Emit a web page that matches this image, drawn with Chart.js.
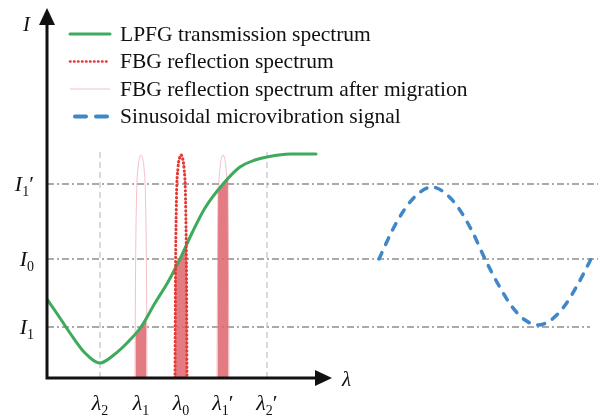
<!DOCTYPE html>
<html>
<head>
<meta charset="utf-8">
<script src="https://cdn.jsdelivr.net/npm/chart.js"></script>
<style>
    html, body { margin: 0; padding: 0; background: #fff; }
</style>
</head>
<body>
<canvas id="spectrum-chart" width="602" height="415"></canvas>
<script>
/*
    data (arbitrary units)
*/
// intensity levels
const levelLabels = ["I1′", "I0", "I1"];
const levelValues = [194, 119, 51];
const levelEnds = [551, 551, 543];

// wavelength marks
const waveLabels = ["λ2", "λ1", "λ0", "λ1′", "λ2′"];
const waveValues = [53, 94, 134, 176, 220];

// LPFG transmission spectrum
const lpfgX = [0, 13, 23, 38, 53, 68, 81, 94, 108, 121, 133, 145, 158, 176, 193, 208, 220, 243, 269];
const lpfgY = [79, 60, 45, 25, 15, 24, 36, 51, 75, 96, 119, 145, 170, 194, 211, 218, 221, 224, 224];

// FBG reflection peak profile (offset from centre wavelength)
const peakOffsets = [-6, -5.5, -4.5, -3, -1.5, 0, 1.5, 3, 4.5, 5.5, 6];
const peakHeights = [0, 100, 180, 210, 220, 223, 220, 210, 180, 100, 0];
const peakCenter = 134;
const shiftedCenters = [94, 176];

// transmitted part of each peak (under the LPFG curve)
const overlapX = [
    [88.5, 88.5, 94, 99.5, 99.5],
    [128, 128, 134, 140, 140],
    [170.5, 170.5, 176, 181.5, 181.5]
];
const overlapY = [
    [0, 45, 51, 58, 0],
    [0, 110, 122, 135, 0],
    [0, 188, 194, 200, 0]
];

// sinusoidal microvibration signal
const sineX = [332, 345, 358.5, 372, 385, 398, 411.5, 425, 438, 451, 464.5, 478, 491, 504, 517.5, 531, 544];
const sineY = [119, 147, 170, 185, 191, 185, 170, 147, 119, 94, 72, 58, 53, 58, 72, 94, 119];

const guideTop = 228;
const axisEndX = 285;
const axisEndY = 370;

const legendLabels = [
    "LPFG transmission spectrum",
    "FBG reflection spectrum",
    "FBG reflection spectrum after migration",
    "Sinusoidal microvibration signal"
];

/* styles */
const greenStyle = { color: "#3daa5c", width: 3, dash: [], cap: "round" };
const redStyle = { color: "#e53935", width: 3, dash: [0.5, 3.5], cap: "round" };
const pinkStyle = { color: "rgba(236,150,160,0.6)", width: 1, dash: [], cap: "butt" };
const blueStyle = { color: "#3f87c7", width: 3.5, dash: [7, 9], cap: "round" };
const fillColor = "rgba(222,100,108,0.85)";
const refColor = "#8f8f8f";
const serif = '"Liberation Serif", "Times New Roman", serif';

const toPoints = (xs, ys) => xs.map((x, i) => ({ x: x, y: ys[i] }));

function peakPoints(center) {
    return peakOffsets.map((o, i) => ({ x: center + o, y: peakHeights[i] }));
}

function lineDataset(label, points, style, order, extra) {
    return Object.assign({
        label: label,
        data: points,
        borderColor: style.color,
        borderWidth: style.width,
        borderDash: style.dash,
        borderCapStyle: style.cap,
        pointRadius: 0,
        fill: false,
        order: order
    }, extra || {});
}

const datasets = [];

// horizontal reference levels
levelValues.forEach((v, i) => {
    datasets.push(lineDataset("level", [{ x: 0, y: v }, { x: levelEnds[i], y: v }],
        { color: refColor, width: 1.5, dash: [7, 3, 2, 3], cap: "butt" }, 9));
});

// vertical guides at λ2 and λ2'
[waveValues[0], waveValues[4]].forEach(v => {
    datasets.push(lineDataset("guide", [{ x: v, y: 0 }, { x: v, y: guideTop }],
        { color: "#b5b5b5", width: 1, dash: [6, 4], cap: "butt" }, 8));
});

// filled overlaps
overlapX.forEach((xs, i) => {
    datasets.push(lineDataset("overlap", toPoints(xs, overlapY[i]),
        { color: "rgba(0,0,0,0)", width: 0, dash: [], cap: "butt" }, 7,
        { fill: "origin", backgroundColor: fillColor, tension: 0 }));
});

// shifted FBG peaks
shiftedCenters.forEach(c => {
    datasets.push(lineDataset(legendLabels[2], peakPoints(c), pinkStyle, 6,
        { cubicInterpolationMode: "monotone" }));
});

datasets.push(lineDataset(legendLabels[0], toPoints(lpfgX, lpfgY), greenStyle, 5,
    { cubicInterpolationMode: "monotone" }));

datasets.push(lineDataset(legendLabels[1], peakPoints(peakCenter), redStyle, 4,
    { cubicInterpolationMode: "monotone" }));

datasets.push(lineDataset(legendLabels[3], toPoints(sineX, sineY), blueStyle, 3,
    { cubicInterpolationMode: "monotone" }));

/*
    draw a symbol like λ1′ : italic base, subscript digit, optional prime
*/
function symbolParts(label) {
    return {
        base: label[0],
        sub: label.slice(1).replace("′", ""),
        prime: label.indexOf("′") >= 0
    };
}

function symbolWidth(ctx, label, size) {
    const p = symbolParts(label);
    ctx.font = `italic ${size}px ${serif}`;
    let w = ctx.measureText(p.base).width;
    ctx.font = `${Math.round(size * 0.62)}px ${serif}`;
    w += ctx.measureText(p.sub).width;
    if (p.prime) {
        ctx.font = `${size}px ${serif}`;
        w += ctx.measureText("′").width;
    }
    return w;
}

function drawSymbol(ctx, label, x, y, size) {
    const p = symbolParts(label);
    ctx.textAlign = "left";
    ctx.textBaseline = "alphabetic";
    ctx.font = `italic ${size}px ${serif}`;
    ctx.fillText(p.base, x, y);
    let cx = x + ctx.measureText(p.base).width;
    ctx.font = `${Math.round(size * 0.62)}px ${serif}`;
    ctx.fillText(p.sub, cx, y + size * 0.22);
    cx += ctx.measureText(p.sub).width;
    if (p.prime) {
        ctx.font = `${size}px ${serif}`;
        ctx.fillText("′", cx, y);
    }
}

function strokeSample(ctx, style, x1, x2, y) {
    ctx.save();
    ctx.strokeStyle = style.color;
    ctx.lineWidth = style.width;
    ctx.setLineDash(style.dash);
    ctx.lineCap = style.cap;
    ctx.beginPath();
    ctx.moveTo(x1, y);
    ctx.lineTo(x2, y);
    ctx.stroke();
    ctx.restore();
}

const schematicPlugin = {
    id: "schematic",
    afterDatasetsDraw(chart) {
        const ctx = chart.ctx;
        const xs = chart.scales.x;
        const ys = chart.scales.y;
        const x0 = xs.getPixelForValue(0);
        const y0 = ys.getPixelForValue(0);
        const xEnd = xs.getPixelForValue(axisEndX);
        const yEnd = ys.getPixelForValue(axisEndY);

        ctx.save();
        // axes with arrows
        ctx.strokeStyle = "#111";
        ctx.fillStyle = "#111";
        ctx.lineWidth = 3;
        ctx.lineCap = "square";
        ctx.beginPath();
        ctx.moveTo(x0, yEnd + 14);
        ctx.lineTo(x0, y0);
        ctx.lineTo(xEnd - 14, y0);
        ctx.stroke();

        ctx.beginPath();
        ctx.moveTo(xEnd, y0);
        ctx.lineTo(xEnd - 17, y0 - 8);
        ctx.lineTo(xEnd - 17, y0 + 8);
        ctx.closePath();
        ctx.fill();

        ctx.beginPath();
        ctx.moveTo(x0, yEnd);
        ctx.lineTo(x0 - 8, yEnd + 17);
        ctx.lineTo(x0 + 8, yEnd + 17);
        ctx.closePath();
        ctx.fill();

        // axis names
        ctx.font = `italic 21px ${serif}`;
        ctx.textAlign = "left";
        ctx.textBaseline = "alphabetic";
        ctx.fillText("I", x0 - 24, yEnd + 23);
        ctx.fillText("λ", xEnd + 10, y0 + 8);

        // wavelength tick labels
        waveLabels.forEach((lab, i) => {
            const px = xs.getPixelForValue(waveValues[i]);
            const w = symbolWidth(ctx, lab, 22);
            drawSymbol(ctx, lab, px - w / 2, y0 + 32, 22);
        });

        // level labels
        levelLabels.forEach((lab, i) => {
            const py = ys.getPixelForValue(levelValues[i]);
            const w = symbolWidth(ctx, lab, 22);
            drawSymbol(ctx, lab, x0 - 13 - w, py + 7, 22);
        });

        // legend
        const styles = [greenStyle, { color: redStyle.color, width: 2.5, dash: [0.5, 3.5], cap: "round" },
            pinkStyle, { color: blueStyle.color, width: 4, dash: [11, 10], cap: "round" }];
        legendLabels.forEach((lab, i) => {
            const ly = 34 + 27.5 * i;
            strokeSample(ctx, styles[i], i === 3 ? 75 : 70, i === 3 ? 108 : 110, ly);
            ctx.fillStyle = "#111";
            ctx.font = `21.5px ${serif}`;
            ctx.textAlign = "left";
            ctx.textBaseline = "middle";
            ctx.fillText(lab, 120, ly + 1);
        });
        ctx.restore();
    }
};

const canvas = document.getElementById("spectrum-chart");
const chart = new Chart(canvas.getContext("2d"), {
    type: "line",
    data: { datasets: datasets },
    options: {
        responsive: false,
        animation: false,
        devicePixelRatio: 1,
        layout: { padding: { left: 47, right: 2, top: 10, bottom: 37 } },
        plugins: {
            legend: { display: false },
            tooltip: { enabled: false }
        },
        scales: {
            x: { type: "linear", display: false, min: 0, max: 553 },
            y: { type: "linear", display: false, min: 0, max: 368 }
        }
    },
    plugins: [schematicPlugin]
});
</script>
</body>
</html>
